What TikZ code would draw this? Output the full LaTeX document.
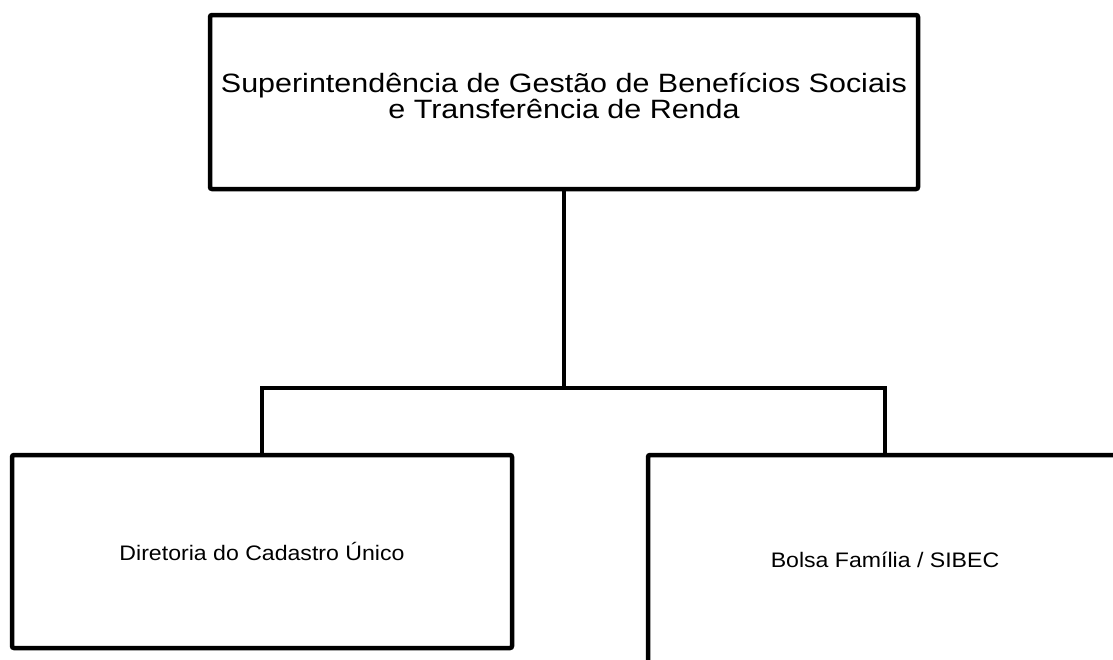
\documentclass[tikz,border=0pt]{standalone}
\usepackage{fontspec}
\setmainfont{Liberation Sans}
\newfontfamily\headfont[FakeStretch=1.15]{Liberation Sans}
\newfontfamily\unitfont[FakeStretch=1.1]{Liberation Sans}
\usepackage{tikz}

\begin{document}
\begin{tikzpicture}[x=1pt,y=-1pt]
\tikzset{unit/.style={draw,line width=4.5pt,rounded corners=2pt,inner sep=0pt,align=center},
    link/.style={line width=4.5pt}}
\useasboundingbox (0,0) rectangle (1113,659);
\node[unit,minimum width=708pt,minimum height=174pt,
    font=\headfont\fontsize{26.5pt}{23pt}\selectfont] (sup) at (564,102)
    {Superintendência de Gestão de Benefícios Sociais\\
     e Transferência de Renda\rule[-12pt]{0pt}{1pt}};
\node[unit,minimum width=500pt,minimum height=193pt,
    font=\unitfont\fontsize{21pt}{25pt}\selectfont] (cad) at (262,551.5)
    {Diretoria do Cadastro Único};
\node[unit,minimum width=474pt,minimum height=212pt,
    font=\unitfont\fontsize{21pt}{25pt}\selectfont] (pbf) at (885,561)
    {\raisebox{3pt}{Bolsa Família / SIBEC}};
\coordinate (bus) at (564,388);
\draw[link] (sup.south) -- (bus);
\draw[link] (cad.north) |- (bus) -| (pbf.north);
\end{tikzpicture}
\end{document}
